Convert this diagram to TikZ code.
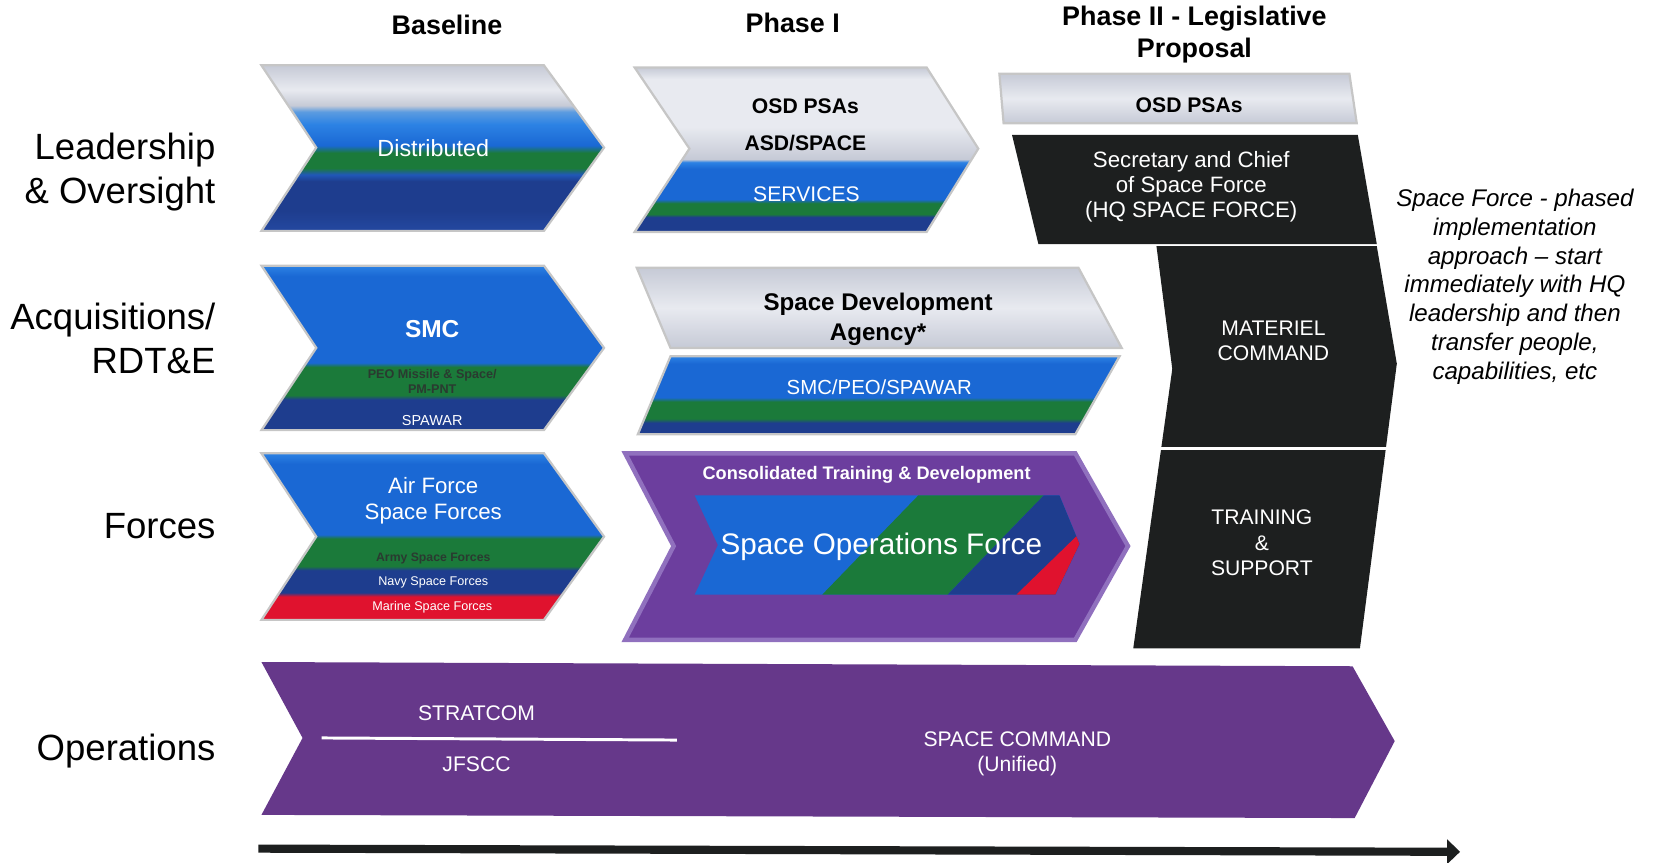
\documentclass[tikz,border=0pt]{standalone}
\usepackage{fontspec}
\setmainfont{Liberation Sans}
\usetikzlibrary{arrows.meta}

\definecolor{sfblue}{HTML}{1A68D4}
\definecolor{sfblueL}{HTML}{2C82E4}
\definecolor{sfblueM}{HTML}{5C9CE0}
\definecolor{sfmid}{HTML}{2058B8}
\definecolor{sfgreen}{HTML}{1B7A3A}
\definecolor{sfnavy}{HTML}{1E3D8E}
\definecolor{sfnavyL}{HTML}{2448A0}
\definecolor{sfred}{HTML}{E0122E}
\definecolor{sfsilver}{HTML}{C6CAD6}
\definecolor{sfsilverL}{HTML}{E8EAF0}
\definecolor{sfpurple}{HTML}{66388A}
\definecolor{sfviolet}{HTML}{6C3E9E}
\definecolor{sfvioletL}{HTML}{9070BE}
\definecolor{sfblack}{HTML}{1D1F1F}
\definecolor{sfdark}{HTML}{2A3A30}

% band shadings (stops between 25bp and 75bp span the shape)
\pgfdeclareverticalshading{leadband}{100bp}{color(0bp)=(sfnavyL); color(25bp)=(sfnavyL);
  color(31bp)=(sfnavy); color(40bp)=(sfnavy); color(42bp)=(sfmid); color(44bp)=(sfgreen);
  color(48.6bp)=(sfgreen); color(50.8bp)=(sfblue); color(57.2bp)=(sfblueL); color(61bp)=(sfblueM);
  color(62.9bp)=(sfsilver); color(67.7bp)=(sfsilverL); color(75bp)=(sfsilver); color(100bp)=(sfsilver)}
\pgfdeclareverticalshading{acqband}{100bp}{color(0bp)=(sfnavy); color(34.3bp)=(sfnavy);
  color(35.6bp)=(sfgreen); color(44.2bp)=(sfgreen); color(45.5bp)=(sfblue); color(71.8bp)=(sfblue);
  color(75bp)=(sfblueL); color(100bp)=(sfblueL)}
\pgfdeclareverticalshading{forceband}{100bp}{color(0bp)=(sfred); color(32bp)=(sfred);
  color(33.2bp)=(sfnavy); color(39.9bp)=(sfnavy); color(41.1bp)=(sfgreen); color(49.4bp)=(sfgreen);
  color(50.6bp)=(sfblue); color(71.8bp)=(sfblue); color(75bp)=(sfblueL); color(100bp)=(sfblueL)}
\pgfdeclareverticalshading{osdband}{100bp}{color(0bp)=(sfnavy); color(29.5bp)=(sfnavy);
  color(30.4bp)=(sfgreen); color(33.7bp)=(sfgreen); color(34.9bp)=(sfblue); color(44.2bp)=(sfblue);
  color(46.2bp)=(sfblueL); color(47.1bp)=(sfsilver); color(57bp)=(sfsilverL); color(71.5bp)=(sfsilverL);
  color(75bp)=(sfsilver); color(100bp)=(sfsilver)}
\pgfdeclareverticalshading{smcband}{100bp}{color(0bp)=(sfnavy); color(32.4bp)=(sfnavy);
  color(35.1bp)=(sfgreen); color(46bp)=(sfgreen); color(48.6bp)=(sfblue); color(70.3bp)=(sfblue);
  color(75bp)=(sfblueL); color(100bp)=(sfblueL)}

\begin{document}
\begin{tikzpicture}[x=0.01cm,y=-0.01cm,
  rowlbl/.style={anchor=east,align=right,inner sep=0pt,font=\fontsize{9.85}{11.9}\selectfont},
  colhdr/.style={align=center,font=\bfseries\fontsize{7.25}{8.5}\selectfont},
  wtxt/.style={text=white,align=center,font=\fontsize{5.7}{6.8}\selectfont},
  btxt/.style={align=center,font=\bfseries\fontsize{5.7}{6.8}\selectfont},
  tinytxt/.style={align=center,font=\fontsize{3.4}{4.1}\selectfont},
  bevel/.style={draw=gray!45,line width=0.6pt},
  silverbar/.style={top color=sfsilver,bottom color=sfsilver,middle color=sfsilverL,bevel}]
\useasboundingbox (0,0) rectangle (1568,818.6);

% Column headers
\node[colhdr] (hbase) at (424,24) {Baseline};
\node[colhdr] (hone) at (752,22) {Phase I};
\node[colhdr] (htwo) at (1133,33) {Phase II - Legislative\\Proposal};

% Row labels
\node[rowlbl] (lead) at (205,163) {Leadership\\\& Oversight};
\node[rowlbl] (acq) at (205,321) {Acquisitions/\\RDT\&E};
\node[rowlbl] (forces) at (205,499) {Forces};
\node[rowlbl] (ops) at (205,712) {Operations};

% Baseline
\shade[shading=leadband,bevel] (248,62) -- (516,62) -- (573,140) -- (516,219) -- (248,219) -- (300,140) -- cycle;
\shade[shading=acqband,bevel] (248,252) -- (516,252) -- (573,330) -- (516,408) -- (248,408) -- (300,330) -- cycle;
\shade[shading=forceband,bevel] (248,430) -- (516,430) -- (573,509) -- (516,588) -- (248,588) -- (300,509) -- cycle;
\node[wtxt,font=\fontsize{6.3}{7.5}\selectfont] (dist) at (411,141) {Distributed};
\node[wtxt,font=\bfseries\fontsize{6.6}{7.5}\selectfont] (smc) at (410,312) {SMC};
\node[tinytxt,text=sfdark,font=\bfseries\fontsize{3.4}{4.1}\selectfont] (peo) at (410,362) {PEO Missile \& Space/\\PM-PNT};
\node[tinytxt,text=white,font=\fontsize{3.9}{4.5}\selectfont] (spawar) at (410,399) {SPAWAR};
\node[wtxt,font=\fontsize{6}{7.1}\selectfont] (afsf) at (411,475) {Air Force\\Space Forces};
\node[tinytxt,text=sfdark,font=\bfseries\fontsize{3.3}{4}\selectfont] (army) at (411,530) {Army Space Forces};
\node[tinytxt,text=white] (navy) at (411,552) {Navy Space Forces};
\node[tinytxt,text=white] (marine) at (410,576) {Marine Space Forces};

% Phase I
\shade[shading=osdband,bevel] (602,64) -- (879,64) -- (928,141) -- (879,220) -- (602,220) -- (654,141) -- cycle;
\node[btxt] (osd1) at (764,101) {OSD PSAs};
\node[btxt] (asd) at (764,136) {ASD/SPACE};
\node[wtxt] (serv) at (765,184) {SERVICES};

\shade[silverbar] (604,254) -- (1023,254) -- (1064,330) -- (636,330) -- cycle;
\shade[shading=smcband,bevel] (636,338) -- (1062,338) -- (1020,412) -- (605,412) -- cycle;
\node[btxt,font=\bfseries\fontsize{6.5}{8}\selectfont] (sda) at (833,303) {Space Development\\Agency*};
\node[wtxt,font=\fontsize{5.5}{6.5}\selectfont] (smcpeo) at (834,367) {SMC/PEO/SPAWAR};

\filldraw[fill=sfviolet,draw=sfvioletL,line width=1.2pt] (593,430) -- (1020,430) -- (1070,518) -- (1020,607) -- (593,607) -- (639,518) -- cycle;
\begin{scope}
\clip (659,470) -- (1005,470) -- (1024,516) -- (1001,564) -- (659,564) -- (681,517) -- cycle;
\fill[sfblue] (650,465) rectangle (1040,570);
\fill[sfgreen] (871,470) -- (990,470) -- (899,564) -- (780,564) -- cycle;
\fill[sfnavy] (990,470) -- (1040,470) -- (1040,564) -- (899,564) -- cycle;
\fill[sfred] (1030,500) -- (1040,500) -- (1040,570) -- (958,570) -- cycle;
\end{scope}
\node[wtxt,font=\bfseries\fontsize{4.9}{6}\selectfont] (ctd) at (822,450) {Consolidated Training \& Development};
\node[wtxt,font=\fontsize{8}{9}\selectfont] (sof) at (836,519) {Space Operations Force};

% Phase II
\shade[silverbar] (948,70) -- (1280,70) -- (1287,117) -- (952,117) -- cycle;
\node[btxt] (osd2) at (1128,100) {OSD PSAs};
\fill[sfblack] (960,128) -- (1288,128) -- (1306,231.5) -- (985,231.5) -- cycle;
\fill[sfblack] (1097,233.5) -- (1306,233.5) -- (1325,345) -- (1290,615) -- (1075,615) -- (1112,350) -- cycle;
\draw[white,line width=0.8pt] (1100,425) -- (1316,425);
\node[wtxt,font=\fontsize{6}{6.8}\selectfont] (secaf) at (1130,177) {Secretary and Chief\\of Space Force\\(HQ SPACE FORCE)};
\node[wtxt] (matcmd) at (1208,323) {MATERIEL\\COMMAND};
\node[wtxt] (trsup) at (1197,515) {TRAINING\\\&\\SUPPORT};

% Side note
\node[align=center,font=\itshape\fontsize{6.5}{7.8}\selectfont] (note) at (1437,272)
  {Space Force - phased\\implementation\\approach -- start\\immediately with HQ\\leadership and then\\transfer people,\\capabilities, etc};

% Operations
\fill[sfpurple] (248,628) -- (1283,632) -- (1323,703) -- (1285,776) -- (248,773) -- (287,700) -- cycle;
\draw[white,line width=0.8pt] (305,700) -- (642,702);
\node[wtxt] (stratcom) at (452,677) {STRATCOM};
\node[wtxt] (jfscc) at (452,725) {JFSCC};
\node[wtxt] (spacecmd) at (965,715) {SPACE COMMAND\\(Unified)};

% Timeline
\coordinate (tstart) at (245,805);
\coordinate (tend) at (1385,808);
\draw[sfblack,line width=2.2pt,-{Triangle[length=3.5pt,width=6.5pt]}] (tstart) -- (tend);
\end{tikzpicture}
\end{document}
